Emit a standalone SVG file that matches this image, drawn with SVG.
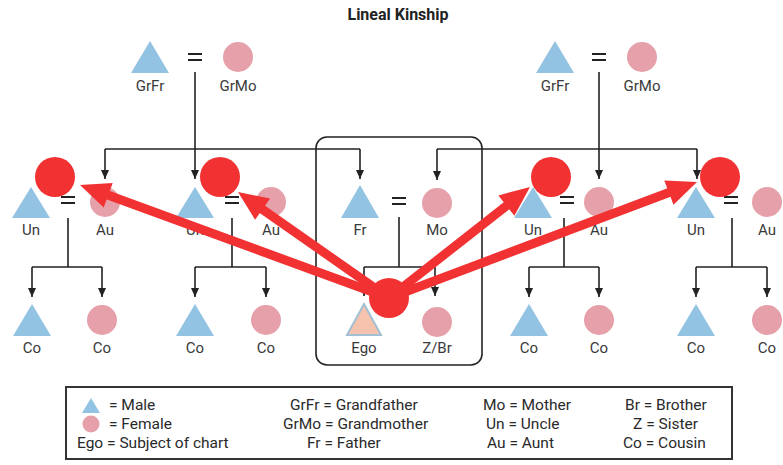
<svg xmlns="http://www.w3.org/2000/svg" width="783" height="465" viewBox="0 0 783 465">
<defs>
<style>
.m{fill:#93c3e2}
.f{fill:#e6a0a9}
.lbl{font-family:Roboto,"Noto Sans",sans-serif;font-size:15px;fill:#3a3a3a;text-anchor:middle}
.lg{font-family:Roboto,"Noto Sans",sans-serif;font-size:15.5px;fill:#2a2a2a}
.eq{stroke:#222;stroke-width:2.2}
.c{fill:none;stroke:#222;stroke-width:1.6}
.ca{fill:none;stroke:#222;stroke-width:1.6;marker-end:url(#ah)}
.red{fill:#f23232}
.rl{stroke:#f23232;stroke-width:9;fill:none}
</style>
<marker id="ah" markerUnits="userSpaceOnUse" markerWidth="10" markerHeight="10" refX="9" refY="5" orient="auto">
<path d="M0,1 L9,5 L0,9 z" fill="#222"/>
</marker>
</defs>
<rect width="783" height="465" fill="#fff"/>
<text x="398" y="20" font-family="Roboto,'Noto Sans',sans-serif" font-size="16" font-weight="bold" fill="#222" text-anchor="middle">Lineal Kinship</text>

<rect id="family-box" x="316" y="137" width="166" height="228" rx="11" fill="none" stroke="#222" stroke-width="1.6"/>

<g id="connectors">
<path class="c" d="M195,72 V149"/>
<path class="c" d="M105,149 H360"/>
<path class="ca" d="M195,149 V179"/>
<path class="ca" d="M105,149 V179"/>
<path class="ca" d="M360,149 V179"/>
<path class="c" d="M599,72 V149"/>
<path class="c" d="M437,149 H697"/>
<path class="ca" d="M599,149 V179"/>
<path class="ca" d="M437,149 V180"/>
<path class="ca" d="M697,149 V179"/>
<path class="c" d="M68,218 V267 M32,267 H102"/>
<path class="ca" d="M32,267 V297"/>
<path class="ca" d="M102,267 V297"/>
<path class="c" d="M232,218 V267 M195,267 H266"/>
<path class="ca" d="M195,267 V297"/>
<path class="ca" d="M266,267 V297"/>
<path class="c" d="M399,217 V267 M364,267 H435"/>
<path class="ca" d="M364,267 V296"/>
<path class="ca" d="M435,267 V296"/>
<path class="c" d="M564,218 V267 M529,267 H599"/>
<path class="ca" d="M529,267 V297"/>
<path class="ca" d="M599,267 V297"/>
<path class="c" d="M732,218 V267 M696,267 H767"/>
<path class="ca" d="M696,267 V297"/>
<path class="ca" d="M767,267 V297"/>
</g>

<g id="grandparents-left">
<polygon class="m" points="150,41 169,73 131,73"/>
<path class="eq" d="M188,54 H202 M188,60 H202"/>
<circle class="f" cx="238" cy="57" r="15"/>
<text class="lbl" x="150" y="91">GrFr</text>
<text class="lbl" x="238" y="91">GrMo</text>
</g>
<g id="grandparents-right">
<polygon class="m" points="555,41 574,73 536,73"/>
<path class="eq" d="M592,54 H606 M592,60 H606"/>
<circle class="f" cx="642" cy="57" r="15"/>
<text class="lbl" x="555" y="91">GrFr</text>
<text class="lbl" x="642" y="91">GrMo</text>
</g>

<g id="couple-1">
<polygon class="m" points="31,187 50,218 12,218"/>
<path class="eq" d="M61,197 H75 M61,203 H75"/>
<circle class="f" cx="105" cy="202" r="15"/>
<text class="lbl" x="31" y="235">Un</text>
<text class="lbl" x="105" y="235">Au</text>
</g>
<g id="couple-2">
<polygon class="m" points="195,187 214,218 176,218"/>
<path class="eq" d="M225,197 H239 M225,203 H239"/>
<circle class="f" cx="271" cy="202" r="15"/>
<text class="lbl" x="195" y="235">Un</text>
<text class="lbl" x="271" y="235">Au</text>
</g>
<g id="parents">
<polygon class="m" points="360,185 379,218 341,218"/>
<path class="eq" d="M392,198 H406 M392,204 H406"/>
<circle class="f" cx="437" cy="203" r="15"/>
<text class="lbl" x="360" y="235">Fr</text>
<text class="lbl" x="437" y="235">Mo</text>
</g>
<g id="couple-3">
<polygon class="m" points="533,187 552,218 514,218"/>
<path class="eq" d="M560,197 H574 M560,203 H574"/>
<circle class="f" cx="599" cy="202" r="15"/>
<text class="lbl" x="533" y="235">Un</text>
<text class="lbl" x="599" y="235">Au</text>
</g>
<g id="couple-4">
<polygon class="m" points="696,187 715,218 677,218"/>
<path class="eq" d="M724,197 H738 M724,203 H738"/>
<circle class="f" cx="767" cy="202" r="15"/>
<text class="lbl" x="696" y="235">Un</text>
<text class="lbl" x="767" y="235">Au</text>
</g>

<g id="cousins-1">
<polygon class="m" points="32,304 51,336 13,336"/>
<circle class="f" cx="102" cy="320" r="15"/>
<text class="lbl" x="32" y="353">Co</text>
<text class="lbl" x="102" y="353">Co</text>
</g>
<g id="cousins-2">
<polygon class="m" points="195,304 214,336 176,336"/>
<circle class="f" cx="266" cy="320" r="15"/>
<text class="lbl" x="195" y="353">Co</text>
<text class="lbl" x="266" y="353">Co</text>
</g>
<g id="ego-siblings">
<polygon points="364,304 381,335 347,335" fill="#f6c3ae" stroke="#a2bfd3" stroke-width="2"/>
<circle class="f" cx="437" cy="322" r="15"/>
<text class="lbl" x="364" y="353">Ego</text>
<text class="lbl" x="437" y="353">Z/Br</text>
</g>
<g id="cousins-3">
<polygon class="m" points="529,304 548,336 510,336"/>
<circle class="f" cx="599" cy="320" r="15"/>
<text class="lbl" x="529" y="353">Co</text>
<text class="lbl" x="599" y="353">Co</text>
</g>
<g id="cousins-4">
<polygon class="m" points="696,304 715,336 677,336"/>
<circle class="f" cx="767" cy="320" r="15"/>
<text class="lbl" x="696" y="353">Co</text>
<text class="lbl" x="767" y="353">Co</text>
</g>

<g id="highlights">
<circle class="red" cx="55" cy="177" r="20"/>
<circle class="red" cx="220" cy="177" r="20"/>
<circle class="red" cx="551" cy="177" r="20"/>
<circle class="red" cx="720" cy="177" r="20"/>
</g>

<g id="red-arrows">
<line class="rl" x1="389" y1="298" x2="105" y2="194"/>
<polygon class="red" points="80,185 112.7,183.1 103.7,207.5"/>
<line class="rl" x1="389" y1="298" x2="259" y2="207"/>
<polygon class="red" points="238,192 270.1,198.6 255.1,219.8"/>
<line class="rl" x1="389" y1="298" x2="510" y2="203"/>
<polygon class="red" points="530,187 514.4,215.8 498.4,195.4"/>
<line class="rl" x1="389" y1="298" x2="673" y2="191"/>
<polygon class="red" points="697,182 673.5,204.8 664.3,180.4"/>
<circle class="red" id="ego-dot" cx="389" cy="298" r="20"/>
</g>

<g id="legend">
<rect x="66" y="387" width="666" height="72" fill="#fff" stroke="#333" stroke-width="2"/>
<polygon class="m" points="91,398 100,413 82,413"/>
<circle class="f" cx="91" cy="424" r="8.5"/>
<text class="lg" x="109" y="410">= Male</text>
<text class="lg" x="109" y="429">= Female</text>
<text class="lg" x="77" y="448">Ego = Subject of chart</text>
<text class="lg" x="290" y="410">GrFr = Grandfather</text>
<text class="lg" x="283" y="429">GrMo = Grandmother</text>
<text class="lg" x="307" y="448">Fr = Father</text>
<text class="lg" x="483" y="410">Mo = Mother</text>
<text class="lg" x="486" y="429">Un = Uncle</text>
<text class="lg" x="487" y="448">Au = Aunt</text>
<text class="lg" x="625" y="410">Br = Brother</text>
<text class="lg" x="633" y="429">Z = Sister</text>
<text class="lg" x="623" y="448">Co = Cousin</text>
</g>
</svg>
